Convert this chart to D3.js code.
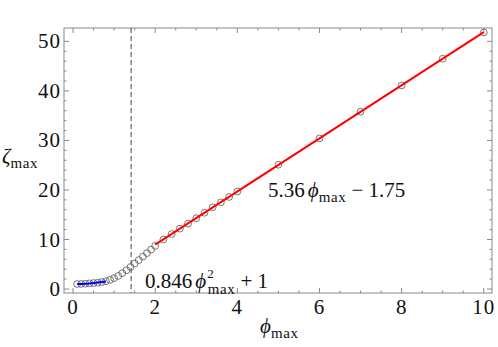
<!DOCTYPE html>
<html>
<head>
<meta charset="utf-8">
<script src="https://cdn.jsdelivr.net/npm/d3@7"></script>
<style>
  body { margin: 0; background: #fff; }
</style>
</head>
<body>
<svg class="graph"></svg>
<script>
// measured points (phi_max, zeta_max)
var phi = [0.1, 0.2, 0.3, 0.4, 0.5, 0.6, 0.7, 0.8, 0.9, 1.0,
    1.1, 1.2, 1.3, 1.4, 1.5, 1.6, 1.7, 1.8, 1.9, 2.0,
    2.2, 2.4, 2.6, 2.8, 3.0, 3.2, 3.4, 3.6, 3.8, 4.0,
    5, 6, 7, 8, 9, 10]
var zeta = [1.01, 1.03, 1.08, 1.14, 1.21, 1.30, 1.42, 1.58, 1.85, 2.2,
    2.65, 3.2, 3.8, 4.45, 5.15, 5.85, 6.55, 7.25, 7.95, 8.7,
    10.0, 11.1, 12.2, 13.2, 14.3, 15.4, 16.5, 17.5, 18.6, 19.7,
    25.1, 30.4, 35.8, 41.1, 46.5, 51.8]

// fitted curves
var blueX = [0.1, 0.2, 0.3, 0.4, 0.5, 0.6, 0.7, 0.8]
var blueY = [1.008, 1.034, 1.076, 1.135, 1.212, 1.305, 1.415, 1.541]
var redX = [2, 10]
var redY = [8.97, 51.85]

var xTicks = [0, 2, 4, 6, 8, 10]
var yTicks = [0, 10, 20, 30, 40, 50]
var dashX = 1.414

var width = 498, height = 347
var frame = { left: 64, right: 492, top: 28, bottom: 293 }
var font_size = "21px"
var serif = "Liberation Serif"

var svg = d3.select(".graph")
    .attr("width", width)
    .attr("height", height)

var x = d3.scaleLinear().domain([-0.22, 10.2]).range([frame.left, frame.right])
var y = d3.scaleLinear().domain([-0.8, 52.7]).range([frame.bottom, frame.top])

var tickColor = "#8a8a8a"

// frame
svg.append("rect")
    .attr("x", frame.left)
    .attr("y", frame.top)
    .attr("width", frame.right - frame.left)
    .attr("height", frame.bottom - frame.top)
    .attr("fill", "none")
    .attr("stroke", tickColor)
    .attr("stroke-width", 1)

// ticks on all four sides, pointing inward
var xMinor = d3.range(0, 10.01, 0.5)
var yMinor = d3.range(0, 52, 2)

function isMajor(v, step) { return Math.abs(v / step - Math.round(v / step)) < 1e-6 }

xMinor.forEach(function (v) {
    var len = isMajor(v, 2) ? 5 : 2.5
    svg.append("line").attr("x1", x(v)).attr("x2", x(v))
        .attr("y1", frame.bottom).attr("y2", frame.bottom - len)
        .attr("stroke", tickColor)
    svg.append("line").attr("x1", x(v)).attr("x2", x(v))
        .attr("y1", frame.top).attr("y2", frame.top + len)
        .attr("stroke", tickColor)
})
yMinor.forEach(function (v) {
    var len = isMajor(v, 10) ? 5 : 2.5
    svg.append("line").attr("y1", y(v)).attr("y2", y(v))
        .attr("x1", frame.left).attr("x2", frame.left + len)
        .attr("stroke", tickColor)
    svg.append("line").attr("y1", y(v)).attr("y2", y(v))
        .attr("x1", frame.right).attr("x2", frame.right - len)
        .attr("stroke", tickColor)
})

svg.selectAll(".xlab")
    .data(xTicks)
    .enter().append("text")
    .attr("class", "xlab")
    .attr("x", (d) => x(d))
    .attr("y", 314)
    .attr("text-anchor", "middle")
    .attr("font-family", serif)
    .attr("fill", "#111")
    .style("font-size", font_size)
    .style("letter-spacing", "1px")
    .text((d) => d)

svg.selectAll(".ylab")
    .data(yTicks)
    .enter().append("text")
    .attr("class", "ylab")
    .attr("x", 61)
    .attr("y", (d) => y(d) + 7)
    .attr("text-anchor", "end")
    .attr("font-family", serif)
    .attr("fill", "#111")
    .style("font-size", font_size)
    .style("letter-spacing", "1px")
    .text((d) => d)

// dashed threshold line
svg.append("line")
    .attr("x1", x(dashX)).attr("x2", x(dashX))
    .attr("y1", frame.top).attr("y2", frame.bottom)
    .attr("stroke", "#444")
    .attr("stroke-dasharray", "5,3")

// points
var pts = phi.map((p, i) => ({ x: p, y: zeta[i] }))
svg.selectAll(".pt")
    .data(pts)
    .enter().append("circle")
    .attr("class", "pt")
    .attr("cx", (d) => x(d.x))
    .attr("cy", (d) => y(d.y))
    .attr("r", 3.4)
    .attr("fill", "none")
    .attr("stroke", "#555")
    .attr("stroke-width", 0.8)

var line = d3.line().x((d) => x(d[0])).y((d) => y(d[1])).curve(d3.curveMonotoneX)

svg.append("path")
    .attr("d", line(blueX.map((v, i) => [v, blueY[i]])))
    .attr("fill", "none")
    .attr("stroke", "#0000ff")
    .attr("stroke-width", 2)

svg.append("path")
    .attr("d", line(redX.map((v, i) => [v, redY[i]])))
    .attr("fill", "none")
    .attr("stroke", "#ff0000")
    .attr("stroke-width", 2)

// labels with subscripts
function subMax(t) {
    return t.append("tspan").attr("dy", 5).style("font-size", "15px")
        .style("letter-spacing", "0.6px").text("max")
}

function maxLabel(sel, pre, sup, post) {
    var t = sel.attr("font-family", serif).attr("fill", "#111")
        .style("font-size", font_size)
    t.append("tspan").text(pre)
    t.append("tspan").attr("dx", 3).style("font-style", "italic").text("\u03d5")
    if (sup) {
        t.append("tspan").attr("dx", 1).attr("dy", -10).style("font-size", "13px").text(sup)
        t.append("tspan").attr("dx", -6).attr("dy", 16).style("font-size", "15px")
            .style("letter-spacing", "0.6px").text("max")
        t.append("tspan").attr("dy", -6).text(post)
    } else {
        subMax(t)
        t.append("tspan").attr("dy", -5).text(post)
    }
}

maxLabel(svg.append("text").attr("x", 268).attr("y", 197), "5.36", null, " \u2212 1.75")
maxLabel(svg.append("text").attr("x", 145).attr("y", 288), "0.846", "2", " + 1")

// axis titles
var xt = svg.append("text").attr("x", 260).attr("y", 333)
    .attr("font-family", serif).attr("fill", "#111").style("font-size", font_size)
xt.append("tspan").style("font-style", "italic").text("\u03d5")
subMax(xt)

var yt = svg.append("text").attr("x", 2).attr("y", 163)
    .attr("font-family", serif).attr("fill", "#111").style("font-size", font_size)
yt.append("tspan").style("font-style", "italic").text("\u03b6")
subMax(yt)
</script>
</body>
</html>
